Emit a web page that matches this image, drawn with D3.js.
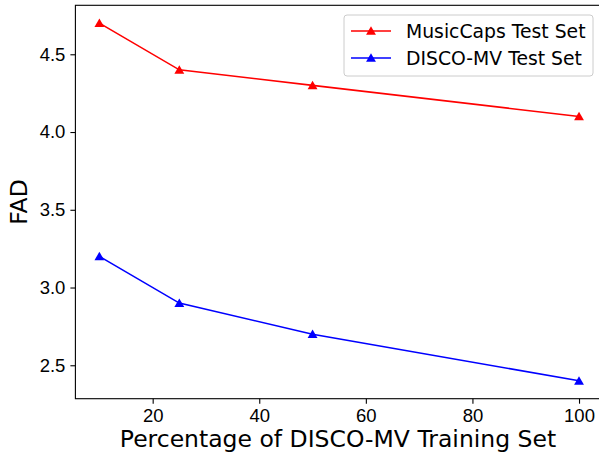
<!DOCTYPE html>
<html>
<head>
<meta charset="utf-8">
<script src="https://cdn.jsdelivr.net/npm/d3@7"></script>
<style>
  body { margin: 0; background: #fff; }
  svg { display: block; font-family: "DejaVu Sans", sans-serif; }
  .axis path, .axis line { stroke: #000; stroke-width: 1.1; }
  .axis text { fill: #000; font-size: 18.5px; }
</style>
</head>
<body>
<div id="chart"></div>
<script>
// data
const percentages = [10, 25, 50, 100];
const musicCapsFAD = [4.7, 4.4, 4.3, 4.1];
const discoFAD = [3.2, 2.9, 2.7, 2.4];
const xTicks = [20, 40, 60, 80, 100];
const yTicks = [2.5, 3.0, 3.5, 4.0, 4.5];
const seriesNames = ['MusicCaps Test Set', 'DISCO-MV Test Set'];
const seriesColors = ['#ff0000', '#0000ff'];

const width = 599, height = 453;
const margin = { top: 5.3, right: -4, bottom: 54.3, left: 75.4 };
const plotW = width - margin.left - margin.right;
const plotH = height - margin.top - margin.bottom;

const svg = d3.select('#chart')
  .append('svg')
  .attr('width', width)
  .attr('height', height);

const chart = svg.append('g')
  .attr('transform', `translate(${margin.left},${margin.top})`);

// scales (matplotlib-like 5% margins)
const xScale = d3.scaleLinear().domain([5.5, 104.5]).range([0, plotW]);
const yScale = d3.scaleLinear().domain([2.285, 4.815]).range([plotH, 0]);

const xAxis = d3.axisBottom(xScale).tickValues(xTicks).tickSize(5).tickPadding(5).tickFormat(d3.format('d'));
const yAxis = d3.axisLeft(yScale).tickValues(yTicks).tickSize(5).tickPadding(5).tickFormat(d3.format('.1f'));

chart.append('g')
  .classed('x axis', true)
  .attr('transform', `translate(0,${plotH})`)
  .call(xAxis)
  .call(g => g.select('.domain').remove());

chart.append('g')
  .classed('y axis', true)
  .call(yAxis)
  .call(g => g.select('.domain').remove());

// frame
chart.append('rect')
  .attr('x', 0).attr('y', 0)
  .attr('width', plotW).attr('height', plotH)
  .attr('fill', 'none')
  .attr('stroke', '#000')
  .attr('stroke-width', 1.1);

const series = [musicCapsFAD, discoFAD];
const line = d3.line()
  .x((d, i) => xScale(percentages[i]))
  .y(d => yScale(d));
const tri = d3.symbol().type(d3.symbolTriangle).size(42);

series.forEach((vals, s) => {
  chart.append('path')
    .datum(vals)
    .attr('d', line)
    .attr('fill', 'none')
    .attr('stroke', seriesColors[s])
    .attr('stroke-width', 1.6);

  chart.selectAll(`.marker-${s}`)
    .data(vals)
    .enter()
    .append('path')
    .attr('transform', (d, i) => `translate(${xScale(percentages[i])},${yScale(d) + 1})`)
    .attr('d', tri)
    .attr('fill', seriesColors[s]);
});

// axis labels
svg.append('text')
  .attr('x', 338)
  .attr('y', 447)
  .attr('text-anchor', 'middle')
  .style('font-size', '23.5px')
  .text('Percentage of DISCO-MV Training Set');

svg.append('text')
  .attr('transform', `translate(27,${margin.top + plotH / 2}) rotate(-90)`)
  .attr('text-anchor', 'middle')
  .style('font-size', '23.5px')
  .text('FAD');

// legend
const legend = svg.append('g').attr('transform', 'translate(344,15)');
legend.append('rect')
  .attr('width', 249).attr('height', 61)
  .attr('rx', 3)
  .attr('fill', '#fff')
  .attr('stroke', '#cccccc')
  .attr('stroke-width', 1);

seriesNames.forEach((name, s) => {
  const y = 16 + s * 27;
  legend.append('line')
    .attr('x1', 7).attr('x2', 47)
    .attr('y1', y).attr('y2', y)
    .attr('stroke', seriesColors[s])
    .attr('stroke-width', 1.6);
  legend.append('path')
    .attr('transform', `translate(27,${y + 1})`)
    .attr('d', tri)
    .attr('fill', seriesColors[s]);
  legend.append('text')
    .attr('x', 62).attr('y', y)
    .attr('dy', '0.35em')
    .style('font-size', '18.8px')
    .text(name);
});
</script>
</body>
</html>
